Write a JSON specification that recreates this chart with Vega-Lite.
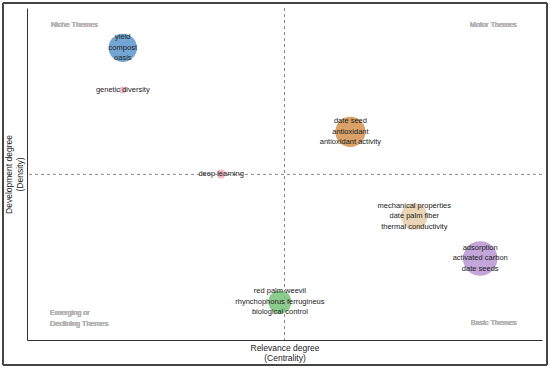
{
  "$schema": "https://vega.github.io/schema/vega-lite/v6.json",
  "width": 515,
  "height": 332,
  "autosize": {"type": "none"},
  "padding": {"left": 27, "top": 8, "right": 8, "bottom": 29},
  "background": "white",
  "config": {
    "view": {"stroke": null},
    "font": "Liberation Sans",
    "axis": {
      "domain": true,
      "domainColor": "#333333",
      "domainWidth": 1,
      "ticks": false,
      "labels": false,
      "grid": false,
      "titleFont": "Liberation Sans",
      "titleFontSize": 8.5,
      "titleFontWeight": "normal",
      "titleColor": "#222222",
      "titleLineHeight": 10.5
    }
  },
  "data": {
    "values": [
      {"cluster": "yield", "centrality": 0.186, "density": 0.880, "frequency": 25.6, "label": "yield\ncompost\noasis"},
      {"cluster": "genetic diversity", "centrality": 0.186, "density": 0.753, "frequency": 1.6, "label": "genetic diversity"},
      {"cluster": "date seed", "centrality": 0.628, "density": 0.627, "frequency": 29, "label": "date seed\nantioxidant\nantioxidant activity"},
      {"cluster": "deep learning", "centrality": 0.377, "density": 0.5, "frequency": 2.5, "label": "deep learning"},
      {"cluster": "mechanical properties", "centrality": 0.752, "density": 0.372, "frequency": 22.5, "label": "mechanical properties\ndate palm fiber\nthermal conductivity"},
      {"cluster": "adsorption", "centrality": 0.880, "density": 0.2455, "frequency": 38, "label": "adsorption\nactivated carbon\ndate seeds"},
      {"cluster": "red palm weevil", "centrality": 0.491, "density": 0.1145, "frequency": 17, "label": "red palm weevil\nrhynchophorus ferrugineus\nbiological control"}
    ]
  },
  "encoding": {
    "x": {"field": "centrality", "type": "quantitative", "scale": {"domain": [0, 1], "nice": false, "zero": false},
      "axis": {"title": ["Relevance degree", "(Centrality)"], "titlePadding": 3}},
    "y": {"field": "density", "type": "quantitative", "scale": {"domain": [0, 1], "nice": false, "zero": false},
      "axis": {"title": ["Development degree", "(Density)"], "titlePadding": 3}}
  },
  "layer": [
    {
      "mark": {"type": "rect", "fill": null, "stroke": "#444444", "strokeWidth": 1, "clip": false},
      "encoding": {
        "x": {"datum": -0.0466, "type": "quantitative"},
        "x2": {"datum": 1.0097},
        "y": {"datum": 1.015, "type": "quantitative"},
        "y2": {"datum": -0.0753}
      }
    },
    {
      "mark": {"type": "rule", "strokeDash": [3, 3], "color": "#888888", "strokeWidth": 1},
      "encoding": {
        "x": {"aggregate": "mean", "field": "centrality", "type": "quantitative"},
        "y": null
      }
    },
    {
      "mark": {"type": "rule", "strokeDash": [3, 3], "color": "#888888", "strokeWidth": 1},
      "encoding": {
        "y": {"aggregate": "mean", "field": "density", "type": "quantitative"},
        "x": null
      }
    },
    {
      "mark": {"type": "circle", "opacity": 0.85, "stroke": null},
      "encoding": {
        "size": {"field": "frequency", "type": "quantitative", "scale": {"domain": [0, 40], "range": [0, 1257]}, "legend": null},
        "color": {"field": "cluster", "type": "nominal", "legend": null,
          "scale": {
            "domain": ["yield", "genetic diversity", "date seed", "deep learning", "mechanical properties", "adsorption", "red palm weevil"],
            "range": ["#5b96cb", "#f0aab6", "#d4914f", "#f0aab6", "#e6cfa9", "#b895d4", "#78c27a"]
          }}
      }
    },
    {
      "transform": [{"filter": "indexof(datum.label, '\\n') >= 0"}],
      "mark": {"type": "text", "lineBreak": "\n", "fontSize": 7.5, "lineHeight": 10.5, "fill": "#222222", "align": "center", "baseline": "middle", "dy": -10.5, "font": "Liberation Sans"},
      "encoding": {
        "text": {"field": "label", "type": "nominal"}
      }
    },
    {
      "transform": [{"filter": "indexof(datum.label, '\\n') < 0"}],
      "mark": {"type": "text", "fontSize": 7.5, "fill": "#222222", "align": "center", "baseline": "middle", "font": "Liberation Sans"},
      "encoding": {
        "text": {"field": "label", "type": "nominal"}
      }
    },
    {
      "mark": {"type": "text", "text": "Niche Themes", "align": "left", "baseline": "middle", "fontSize": 7.3, "fill": "#b5b5b5"},
      "encoding": {"x": {"datum": 0.0466, "type": "quantitative"}, "y": {"datum": 0.949, "type": "quantitative"}}
    },
    {
      "mark": {"type": "text", "text": "Motor Themes", "align": "right", "baseline": "middle", "fontSize": 7.3, "fill": "#b5b5b5"},
      "encoding": {"x": {"datum": 0.951, "type": "quantitative"}, "y": {"datum": 0.949, "type": "quantitative"}}
    },
    {
      "mark": {"type": "text", "text": ["Emerging or", "Declining Themes"], "align": "left", "baseline": "middle", "fontSize": 7.3, "lineHeight": 10.5, "dy": -5.25, "fill": "#b5b5b5"},
      "encoding": {"x": {"datum": 0.0447, "type": "quantitative"}, "y": {"datum": 0.0648, "type": "quantitative"}}
    },
    {
      "mark": {"type": "text", "text": "Basic Themes", "align": "right", "baseline": "middle", "fontSize": 7.3, "fill": "#b5b5b5"},
      "encoding": {"x": {"datum": 0.951, "type": "quantitative"}, "y": {"datum": 0.0512, "type": "quantitative"}}
    }
  ]
}
